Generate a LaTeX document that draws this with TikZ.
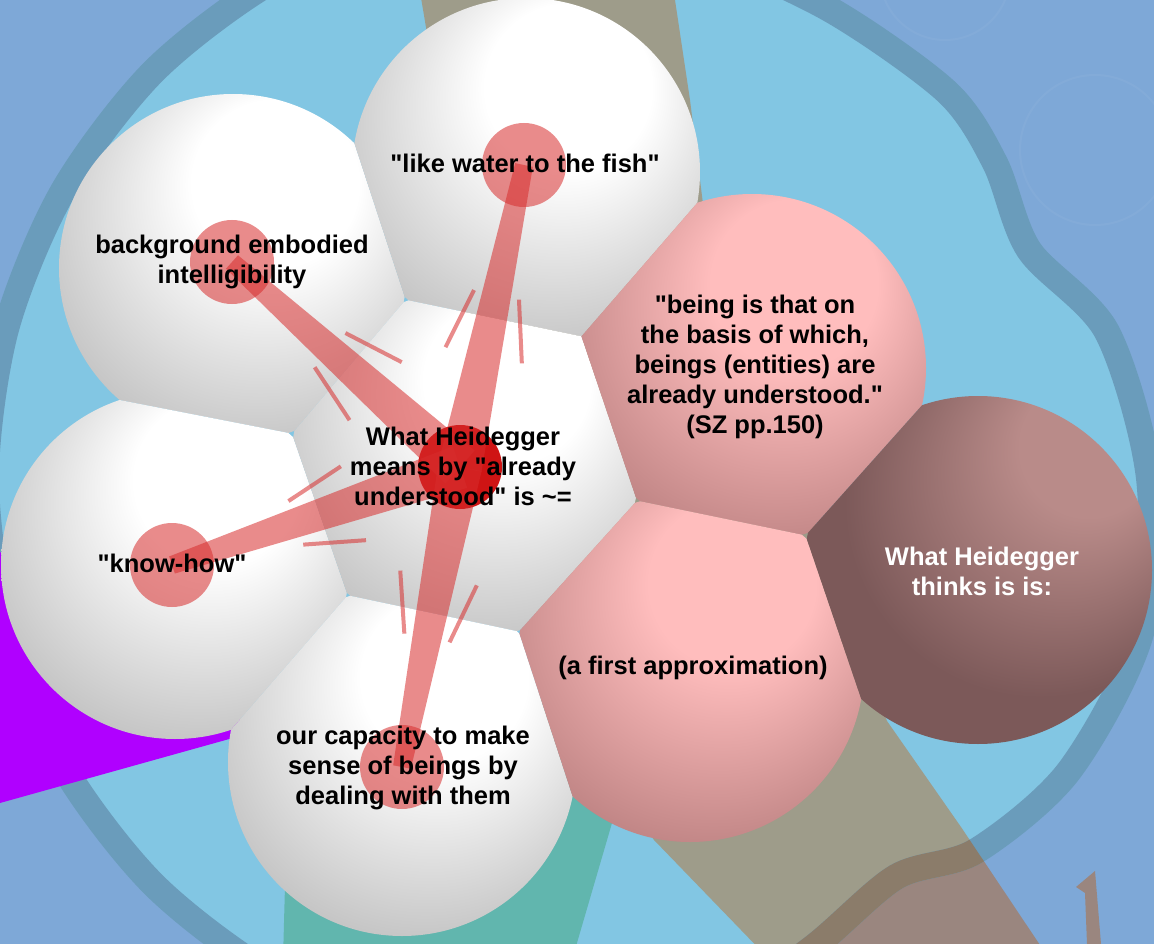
\documentclass[tikz,border=0pt]{standalone}
\usepackage{fontspec}
\setmainfont{Liberation Sans}[Ligatures=TeXOff]
\usepackage{tikz}
\usetikzlibrary{calc}
\definecolor{deepblue}{HTML}{7EA8D7}
\definecolor{paleblue}{HTML}{82C6E3}
\definecolor{ringblue}{HTML}{6A9CBB}
\definecolor{ringbrown}{HTML}{8B7C6A}
\definecolor{bandin}{HTML}{9E9C8A}
\definecolor{bandout}{HTML}{9A867F}
\definecolor{tealband}{HTML}{61B6AE}
\definecolor{purpleband}{HTML}{B000FF}
\definecolor{ballgrey}{HTML}{C4C4C4}
\definecolor{ballrim}{HTML}{A8A8A8}
\definecolor{pinkhi}{HTML}{FFBDBD}
\definecolor{pinkmid}{HTML}{C08585}
\definecolor{pinkrim}{HTML}{A36C6C}
\definecolor{darkhi}{HTML}{B98B89}
\definecolor{darkmid}{HTML}{7C5959}
\definecolor{darkrim}{HTML}{583D3D}
\definecolor{linkred}{HTML}{D72D2D}
\definecolor{hubred}{HTML}{CF1414}
\pgfdeclareradialshading{greyball}{\pgfpoint{8bp}{16bp}}{color(0bp)=(white); color(12bp)=(white); color(32bp)=(ballgrey); color(46bp)=(ballgrey); color(50bp)=(ballrim)}
\pgfdeclareradialshading{pinkball}{\pgfpoint{8bp}{16bp}}{color(0bp)=(pinkhi); color(12bp)=(pinkhi); color(32bp)=(pinkmid); color(46bp)=(pinkmid); color(50bp)=(pinkrim)}
\pgfdeclareradialshading{darkball}{\pgfpoint{20bp}{22bp}}{color(0bp)=(darkhi); color(10bp)=(darkhi); color(28bp)=(darkmid); color(45bp)=(darkmid); color(50bp)=(darkrim)}
\newcommand{\halfspace}[2]{($(#1)!.5!(#2)!800pt!90:(#2)$) -- ($(#1)!.5!(#2)!800pt!-90:(#2)$) -- ($(#1)!.5!(#2)!800pt!180:(#2)$) -- cycle}
\newcommand{\blobpath}{plot[smooth cycle, tension=.5] coordinates {(-14,478) (6,329) (63,191) (154,71) (274,-20) (412,-77) (561,-87) (702,-48) (831,10) (947,92) (995,163) (1029,250) (1107,332) (1149,478) (1141,633) (1069,771) (976,851) (896,877) (811,949) (706,1019) (561,1053) (412,1033) (274,976) (154,885) (63,766) (6,627)}}
\newcommand{\bandpath}{(418,-20) -- (672,-20) -- (690,100) -- (705,220) -- (887,721) -- (961,827) -- (1050,960) -- (770,960) -- (654,840) -- (560,700) -- (470,400) -- (440,110) -- cycle}

\begin{document}
\begin{tikzpicture}[x=1pt, y=-1pt,
	txt/.style={font=\fontsize{25.5}{30}\selectfont\bfseries, align=center, inner sep=0pt},
	dot/.style={circle, inner sep=0pt, minimum size=84pt, fill=linkred, fill opacity=.55},
	hubdot/.style={circle, inner sep=0pt, minimum size=84pt, fill=hubred},
	link/.style={fill=linkred, fill opacity=.55},
	flank/.style={draw=linkred, draw opacity=.55, line width=4pt},
	ring/.style={line width=26pt}]
	\useasboundingbox (0,0) rectangle (1154,944);
	\fill[deepblue] (0,0) rectangle (1154,944);
	\fill[bandout] \bandpath;
	\fill[paleblue] \blobpath;
	\begin{scope}
		\clip \blobpath;
		\fill[bandin] \bandpath;
		\fill[tealband] (283,960) -- (290,700) -- (640,700) -- (612,823) -- (572,960) -- cycle;
	\end{scope}
	\draw[ring, ringblue] \blobpath;
	\begin{scope}
		\clip \bandpath;
		\draw[ring, ringbrown] \blobpath;
	\end{scope}
	\fill[purpleband] (-10,552) -- (240,560) -- (240,736) -- (0,803) -- (-10,803) -- cycle;
	\fill[bandout] (1076,887) -- (1095,871) -- (1101,944) -- (1087,944) -- (1085,893) -- cycle;
	\draw[white, opacity=.04, line width=2pt] (945,-25) circle (65pt) (1095,150) circle (75pt);

	\coordinate (fish) at (526,172);
	\coordinate (bgnd) at (233,268);
	\coordinate (knowhow) at (175,565);
	\coordinate (hub) at (465,465);
	\coordinate (capacity) at (402,762);
	\coordinate (being) at (752,368);
	\coordinate (approx) at (690,668);
	\coordinate (thinks) at (978,570);
	\foreach \b/\sh/\nb in {bgnd/greyball/{fish,hub,knowhow}, fish/greyball/{bgnd,hub,being}, knowhow/greyball/{bgnd,hub,capacity}, hub/greyball/{fish,bgnd,knowhow,capacity,being,approx}, capacity/greyball/{hub,knowhow,approx}, being/pinkball/{fish,hub,approx,thinks}, approx/pinkball/{hub,capacity,being,thinks}, thinks/darkball/{being,approx}}{
		\begin{scope}
			\foreach \n in \nb {\clip \halfspace{\b}{\n};}
			\shade[shading=\sh] (\b) circle (174pt);
		\end{scope}
	}

	\node[hubdot] (dhub) at (460,467) {};
	\node[dot] (dfish) at (524,165) {};
	\node[dot] (dbgnd) at (232,262) {};
	\node[dot] (dknow) at (172,565) {};
	\node[dot] (dcap) at (402,767) {};
	\foreach \o in {dfish,dbgnd,dknow,dcap}{
		\fill[link] ($(dhub)!22pt!90:(\o)$) -- ($(\o)!9pt!-90:(dhub)$) -- ($(\o)!9pt!90:(dhub)$) -- ($(dhub)!22pt!-90:(\o)$) -- cycle;
		\draw[flank] ($(dhub)!.37!(\o)!39pt!90:(\o)$) -- ($(dhub)!.57!(\o)!23pt!90:(\o)$);
		\draw[flank] ($(dhub)!.37!(\o)!39pt!-90:(\o)$) -- ($(dhub)!.57!(\o)!23pt!-90:(\o)$);
	}

	\node[txt] (tfish) at (525,163) {"like water to the fish"};
	\node[txt] (tbgnd) at (232,262) {background embodied\\intelligibility};
	\node[txt] (tknow) at (172,563) {"know-how"};
	\node[txt] (thub) at (463,466) {What Heidegger\\means by "already\\understood" is \textasciitilde=};
	\node[txt] (tcap) at (403,768) {our capacity to make\\sense of beings by\\dealing with them};
	\node[txt] (tbeing) at (755,367) {"being is that on\\the basis of which,\\beings (entities) are\\already understood."\\(SZ pp.150)};
	\node[txt] (tapprox) at (693,668) {(a first approximation)};
	\node[txt, text=white] (tthinks) at (982,571) {What Heidegger\\thinks is is:};
\end{tikzpicture}
\end{document}
